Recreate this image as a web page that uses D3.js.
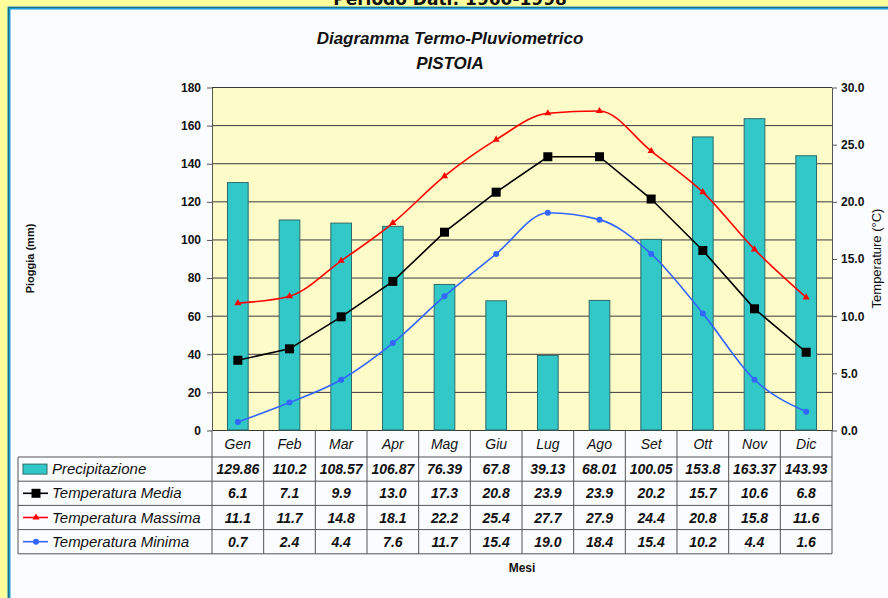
<!DOCTYPE html>
<html>
<head>
<meta charset="utf-8">
<script src="https://cdn.jsdelivr.net/npm/d3@7"></script>
<style>
  body { margin: 0; background: #ffff9c; }
  svg { display: block; }
</style>
</head>
<body>
<script>
// data
var months = ["Gen", "Feb", "Mar", "Apr", "Mag", "Giu", "Lug", "Ago", "Set", "Ott", "Nov", "Dic"];
var precipitazione = [129.86, 110.2, 108.57, 106.87, 76.39, 67.8, 39.13, 68.01, 100.05, 153.8, 163.37, 143.93];
var tMedia = [6.1, 7.1, 9.9, 13.0, 17.3, 20.8, 23.9, 23.9, 20.2, 15.7, 10.6, 6.8];
var tMassima = [11.1, 11.7, 14.8, 18.1, 22.2, 25.4, 27.7, 27.9, 24.4, 20.8, 15.8, 11.6];
var tMinima = [0.7, 2.4, 4.4, 7.6, 11.7, 15.4, 19.0, 18.4, 15.4, 10.2, 4.4, 1.6];
var rainTicks = [0, 20, 40, 60, 80, 100, 120, 140, 160, 180];
var tempTicks = [0, 5, 10, 15, 20, 25, 30];

var width = 888;
var height = 598;

var plot = { left: 212, right: 832, top: 87, bottom: 430 };
var rowTop = 457;
var rowH = 24.2;
var tableLeft = 18;

var svg = d3.select("body")
    .append("svg")
    .attr("width", width)
    .attr("height", height)
    .style("font-family", "Arial, 'Liberation Sans', sans-serif");

// page header, cut off at the top like in the original screenshot
svg.append("text")
    .attr("x", 450)
    .attr("y", 5)
    .attr("text-anchor", "middle")
    .style("font-family", "'DejaVu Sans', Verdana, sans-serif")
    .style("font-weight", "bold")
    .style("font-size", "17px")
    .attr("fill", "#111")
    .text("Periodo Dati: 1960-1998");

// framed white panel
svg.append("rect")
    .attr("x", 9).attr("y", 8)
    .attr("width", width).attr("height", height)
    .attr("fill", "#fbfcfe")
    .attr("stroke", "#1b9fd8")
    .attr("stroke-width", 3);
svg.append("path")
    .attr("d", "M8.5," + height + "V7.5H" + width)
    .attr("fill", "none")
    .attr("stroke", "#1f6f80")
    .attr("stroke-width", 1.2);

// scales
var x = d3.scaleBand()
    .domain(months)
    .range([plot.left, plot.right]);

var yRain = d3.scaleLinear()
    .domain([0, 180])
    .range([plot.bottom, plot.top]);

var yTemp = d3.scaleLinear()
    .domain([0, 30])
    .range([plot.bottom, plot.top]);

// titles
svg.append("text")
    .attr("x", 450).attr("y", 44)
    .attr("text-anchor", "middle")
    .style("font-size", "17px").style("font-weight", "bold").style("font-style", "italic")
    .attr("fill", "#111")
    .text("Diagramma Termo-Pluviometrico");
svg.append("text")
    .attr("x", 450).attr("y", 69)
    .attr("text-anchor", "middle")
    .style("font-size", "17px").style("font-weight", "bold").style("font-style", "italic")
    .attr("fill", "#111")
    .text("PISTOIA");

// plot background + grid
svg.append("rect")
    .attr("x", plot.left).attr("y", plot.top)
    .attr("width", plot.right - plot.left)
    .attr("height", plot.bottom - plot.top)
    .attr("fill", "#fdfbc8");

svg.append("g")
    .selectAll("line")
    .data(rainTicks)
    .enter().append("line")
    .attr("x1", plot.left).attr("x2", plot.right)
    .attr("y1", function (d) { return yRain(d) + 0.5; })
    .attr("y2", function (d) { return yRain(d) + 0.5; })
    .attr("stroke", "#3a3a3a")
    .attr("stroke-width", 1);

// bars
var barW = x.bandwidth() * 0.4;
svg.append("g")
    .selectAll("rect")
    .data(precipitazione)
    .enter().append("rect")
    .attr("x", function (d, i) { return x(months[i]) + (x.bandwidth() - barW) / 2; })
    .attr("y", function (d) { return yRain(d); })
    .attr("width", barW)
    .attr("height", function (d) { return yRain(0) - yRain(d); })
    .attr("fill", "#33c8c8")
    .attr("stroke", "#2d6b6b")
    .attr("stroke-width", 1);

// axes
var leftAxis = svg.append("g")
    .attr("transform", "translate(" + plot.left + ",0.5)")
    .call(d3.axisLeft(yRain).tickValues(rainTicks).tickSize(5).tickSizeOuter(0).tickPadding(6));
var rightAxis = svg.append("g")
    .attr("transform", "translate(" + plot.right + ",0.5)")
    .call(d3.axisRight(yTemp).tickValues(tempTicks).tickSize(5).tickSizeOuter(0).tickPadding(4)
        .tickFormat(d3.format(".1f")));
[leftAxis, rightAxis].forEach(function (a) {
    a.selectAll("path, line").attr("stroke", "#555");
    a.selectAll("text")
        .attr("fill", "#111")
        .style("font-size", "12px")
        .style("font-weight", "bold")
        .style("font-family", "Arial, 'Liberation Sans', sans-serif");
});

svg.append("text")
    .attr("transform", "translate(34," + ((plot.top + plot.bottom) / 2) + ") rotate(-90)")
    .attr("text-anchor", "middle")
    .style("font-size", "11px").style("font-weight", "bold")
    .attr("fill", "#111")
    .text("Pioggia (mm)");
svg.append("text")
    .attr("transform", "translate(881," + ((plot.top + plot.bottom) / 2) + ") rotate(-90)")
    .attr("text-anchor", "middle")
    .style("font-size", "13px")
    .attr("fill", "#111")
    .text("Temperature (°C)");

// temperature lines
var series = [
    { name: "Temperatura Media", values: tMedia, color: "#000000", marker: "square", curve: d3.curveLinear },
    { name: "Temperatura Massima", values: tMassima, color: "#ff0000", marker: "triangle", curve: d3.curveMonotoneX },
    { name: "Temperatura Minima", values: tMinima, color: "#3366ff", marker: "circle", curve: d3.curveMonotoneX }
];

function cx(i) { return x(months[i]) + x.bandwidth() / 2; }

function drawMarker(g, type, color) {
    if (type == "square") {
        g.append("rect").attr("x", -4.5).attr("y", -4.5).attr("width", 9).attr("height", 9).attr("fill", color);
    } else if (type == "triangle") {
        g.append("path").attr("d", d3.symbol().type(d3.symbolTriangle).size(22)).attr("fill", color);
    } else {
        g.append("circle").attr("r", 3).attr("fill", color);
    }
}

series.forEach(function (s) {
    var line = d3.line()
        .x(function (d, i) { return cx(i); })
        .y(function (d) { return yTemp(d); })
        .curve(s.curve);
    svg.append("path")
        .datum(s.values)
        .attr("d", line)
        .attr("fill", "none")
        .attr("stroke", s.color)
        .attr("stroke-width", 1.6);
    svg.append("g")
        .selectAll("g")
        .data(s.values)
        .enter().append("g")
        .attr("transform", function (d, i) { return "translate(" + cx(i) + "," + yTemp(d) + ")"; })
        .each(function () { drawMarker(d3.select(this), s.marker, s.color); });
});

// data table
var table = svg.append("g");
var rows = [
    { name: "Precipitazione", values: precipitazione, fmt: function (d) { return String(d); } }
].concat(series.map(function (s) {
    return { name: s.name, values: s.values, fmt: d3.format(".1f"), s: s };
}));

// month header
table.selectAll("text.month")
    .data(months)
    .enter().append("text")
    .attr("class", "month")
    .attr("x", function (d) { return x(d) + x.bandwidth() / 2; })
    .attr("y", plot.bottom + 19)
    .attr("text-anchor", "middle")
    .style("font-size", "14px").style("font-style", "italic")
    .attr("fill", "#111")
    .text(function (d) { return d; });

var gridColor = "#555";
var tableBottom = rowTop + rowH * rows.length;

// horizontal rules
d3.range(rows.length + 1).forEach(function (r) {
    table.append("line")
        .attr("x1", tableLeft).attr("x2", plot.right)
        .attr("y1", rowTop + r * rowH).attr("y2", rowTop + r * rowH)
        .attr("stroke", gridColor);
});
// vertical rules
table.append("line")
    .attr("x1", tableLeft).attr("x2", tableLeft)
    .attr("y1", rowTop).attr("y2", tableBottom)
    .attr("stroke", gridColor);
months.forEach(function (m) {
    table.append("line")
        .attr("x1", x(m)).attr("x2", x(m))
        .attr("y1", plot.bottom).attr("y2", tableBottom)
        .attr("stroke", gridColor);
});
table.append("line")
    .attr("x1", plot.right).attr("x2", plot.right)
    .attr("y1", plot.bottom).attr("y2", tableBottom)
    .attr("stroke", gridColor);

rows.forEach(function (row, r) {
    var yMid = rowTop + r * rowH + rowH / 2;
    // legend key
    if (r == 0) {
        table.append("rect")
            .attr("x", 23).attr("y", yMid - 5)
            .attr("width", 24).attr("height", 10)
            .attr("fill", "#33c8c8").attr("stroke", "#2d6b6b");
    } else {
        table.append("line")
            .attr("x1", 23).attr("x2", 48)
            .attr("y1", yMid).attr("y2", yMid)
            .attr("stroke", row.s.color).attr("stroke-width", 1.6);
        var mk = table.append("g").attr("transform", "translate(36," + yMid + ")");
        drawMarker(mk, row.s.marker, row.s.color);
    }
    table.append("text")
        .attr("x", 52).attr("y", yMid + 5)
        .style("font-size", "15px").style("font-style", "italic")
        .attr("fill", "#111")
        .text(row.name);
    table.selectAll(null)
        .data(row.values)
        .enter().append("text")
        .attr("x", function (d, i) { return cx(i); })
        .attr("y", yMid + 5)
        .attr("text-anchor", "middle")
        .style("font-size", "14px").style("font-style", "italic").style("font-weight", "bold")
        .attr("fill", "#111")
        .text(function (d) { return row.fmt(d); });
});

svg.append("text")
    .attr("x", (plot.left + plot.right) / 2)
    .attr("y", 572)
    .attr("text-anchor", "middle")
    .style("font-size", "12px").style("font-weight", "bold")
    .attr("fill", "#111")
    .text("Mesi");
</script>
</body>
</html>
